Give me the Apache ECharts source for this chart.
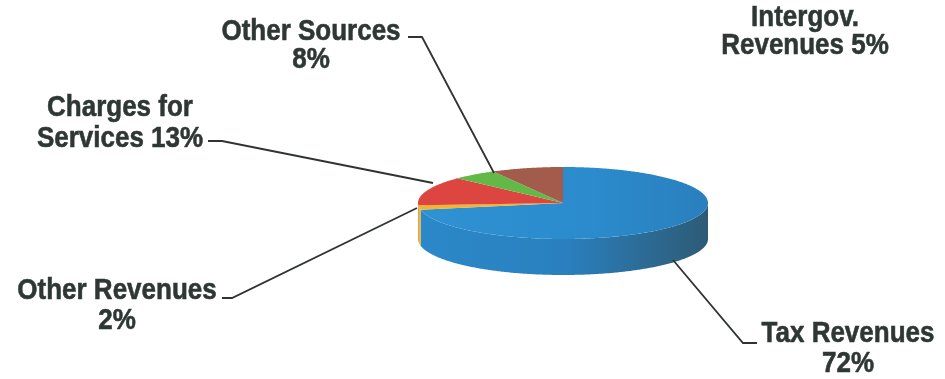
<!DOCTYPE html>
<html>
<head>
<meta charset="utf-8">
<script src="https://cdn.jsdelivr.net/npm/echarts@6/dist/echarts.min.js"></script>
<style>
html,body{margin:0;padding:0;background:#fff;}
#chart{width:945px;height:379px;}
</style>
</head>
<body>
<div id="chart"></div>
<script>
// ---- data ----
const categories = ['Tax Revenues', 'Other Revenues', 'Charges for Services', 'Intergov. Revenues', 'Other Sources'];
const percents = [72, 2, 13, 5, 8];

// ---- styles / layout ----
const topColors = [
  {type:'linear',x:0,y:0,x2:1,y2:0,colorStops:[{offset:0,color:'#2f92d2'},{offset:0.6,color:'#2b8bcc'},{offset:1,color:'#2a7fbd'}]},
  '#f1b530', '#dc4540', '#63b947', '#a35b4b'
];
const sideColors = [
  {type:'linear',x:0,y:0,x2:1,y2:0,colorStops:[{offset:0,color:'#2b88c8'},{offset:0.5,color:'#2a80bf'},{offset:0.78,color:'#2c6b95'},{offset:1,color:'#2d5b76'}]},
  '#f0b530', '#b23530', '#4e9a38', '#84463a'
];
const cx = 563, cy = 203, rx = 145, ry = 36, depth = 36;
const total = percents.reduce((a, b) => a + b, 0);

let acc = 0;
const pieData = percents.map((v, i) => {
  const d = {name: categories[i], value: [acc, acc + v, i]};
  acc += v;
  return d;
});

function pt(t, dy) {
  return [cx + rx * Math.sin(t), cy - ry * Math.cos(t) + (dy || 0)];
}
function arc(a0, a1, dy) {
  const pts = [];
  const n = Math.max(2, Math.ceil(Math.abs(a1 - a0) / 0.01));
  for (let k = 0; k <= n; k++) pts.push(pt(a0 + (a1 - a0) * k / n, dy));
  return pts;
}

function renderItem(params, api) {
  const s = api.value(0) / total * Math.PI * 2;
  const e = api.value(1) / total * Math.PI * 2;
  const idx = api.value(2);
  const children = [];
  const a0 = Math.max(s, Math.PI / 2), a1 = Math.min(e, Math.PI * 1.5);
  if (a0 < a1) {
    const pts = arc(a0, a1, 0).concat(arc(a1, a0, depth));
    children.push({type:'polygon', z2: 0, shape:{points: pts}, style:{fill: sideColors[idx]}});
  }
  const topPts = [[cx, cy]].concat(arc(s, e, 0));
  children.push({type:'polygon', z2: 5, shape:{points: topPts}, style:{fill: topColors[idx]}});
  return {type:'group', children};
}

const labelText = {
  'Tax Revenues': v => 'Tax Revenues\n' + v + '%',
  'Other Revenues': v => 'Other Revenues\n' + v + '%',
  'Charges for Services': v => 'Charges for\nServices ' + v + '%',
  'Intergov. Revenues': v => 'Intergov.\nRevenues ' + v + '%',
  'Other Sources': v => 'Other Sources\n' + v + '%'
};
const labelPos = {
  'Tax Revenues': [848, 349, 30],
  'Other Revenues': [117, 306, 30],
  'Charges for Services': [120, 123, 31],
  'Intergov. Revenues': [805, 32, 28],
  'Other Sources': [311, 46, 28]
};
const leaders = [
  [[408, 37], [422, 37], [494, 173]],
  [[208, 141], [222, 141], [433, 183]],
  [[222, 298], [232, 298], [417, 208]],
  [[673, 260], [743, 343], [757, 343]]
];

const sy = 1.13;
const graphics = [];
categories.forEach((c, i) => {
  const p = labelPos[c];
  graphics.push({
    type: 'text', x: p[0], y: p[1], z: 10, scaleY: sy,
    style: {
      text: labelText[c](percents[i]),
      font: 'bold 26px "Liberation Sans", Arial, sans-serif',
      lineHeight: p[2] / sy,
      fill: '#2f3735',
      stroke: '#2f3735',
      lineWidth: 0.5,
      align: 'center',
      verticalAlign: 'middle'
    }
  });
});
leaders.forEach(l => {
  graphics.push({type:'polyline', z: 9, shape:{points: l}, style:{stroke:'#2f3333', lineWidth: 1.8, fill: null}});
});

const chart = echarts.init(document.getElementById('chart'), null, {renderer: 'canvas'});
chart.setOption({
  animation: false,
  backgroundColor: '#ffffff',
  series: [{
    type: 'custom',
    coordinateSystem: 'none',
    renderItem: renderItem,
    data: pieData,
    silent: true
  }],
  graphic: graphics
});
</script>
</body>
</html>
